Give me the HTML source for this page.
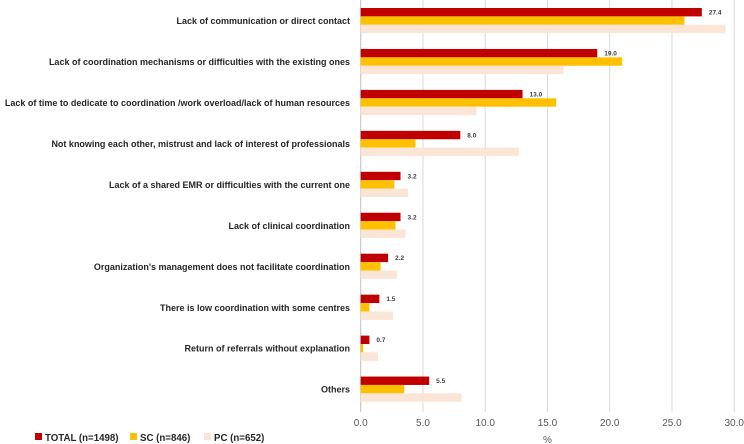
<!DOCTYPE html>
<html><head><meta charset="utf-8"><style>
body{margin:0;background:#fff;}
svg{display:block;font-family:"Liberation Sans",sans-serif;}
</style></head><body>
<svg id="chart" width="744" height="444"></svg>
<script>
const categories=["Lack of communication or direct contact","Lack of coordination mechanisms or difficulties with the existing ones","Lack of time to dedicate to coordination /work overload/lack of human resources","Not knowing each other, mistrust and lack of interest of professionals","Lack of a shared EMR or difficulties with the current one","Lack of clinical coordination","Organization's management does not  facilitate coordination","There is low coordination with some centres","Return of referrals without explanation","Others"];
const totalValues=[27.4,19.0,13.0,8.0,3.2,3.2,2.2,1.5,0.7,5.5];
const scValues=[26.0,21.0,15.7,4.4,2.7,2.8,1.6,0.7,0.2,3.5];
const pcValues=[29.3,16.3,9.3,12.7,3.8,3.6,2.9,2.6,1.4,8.1];
const tickLabels=[0,5,10,15,20,25,30];
const seriesNames=["TOTAL (n=1498)","SC (n=846)","PC (n=652)"];
const colors=["#c00000","#ffc000","#fbe5d6"];
const NS="http://www.w3.org/2000/svg";
const svg=document.getElementById('chart');
const x0=360.7,pxPer=12.45,y0=8,step=40.95,bh=8.4;
const xs=v=>x0+v*pxPer;
function mk(t,a,txt){const e=document.createElementNS(NS,t);for(const k in a)e.setAttribute(k,a[k]);if(txt!==undefined)e.textContent=txt;svg.appendChild(e);return e;}
tickLabels.forEach(t=>{
 const g=mk('line',{x1:xs(t),x2:xs(t),y1:0,y2:412,stroke:t===0?'#bfbfbf':'#d9d9d9','stroke-width':1});
 
 
 const l=mk('text',{x:xs(t),y:426,'text-anchor':'middle','font-size':10,fill:'#595959'},t.toFixed(1));
 
 
});
const xt=mk('text',{x:xs(15),y:443,'text-anchor':'middle','font-size':10,fill:'#595959'},'%');


const series=[totalValues,scValues,pcValues];
categories.forEach((c,i)=>{
 const gy=y0+i*step;
 series.forEach((s,j)=>{
  const r=mk('rect',{x:x0,y:gy+j*bh,width:Math.max(0,xs(s[i])-x0),height:bh,fill:colors[j]});
  
  
 });
 const v=mk('text',{x:xs(totalValues[i])+7,y:gy+6.5,'font-size':6.5,'font-weight':'bold',fill:'#404040'},totalValues[i].toFixed(1));
 
 
 const l=mk('text',{x:350,y:gy+bh*1.5+3.5,'text-anchor':'end','font-size':9,'font-weight':'bold',fill:'#262626'},c);
 
 
 const w=l.getComputedTextLength();
 if(w>349){l.setAttribute('textLength',349);l.setAttribute('lengthAdjust','spacingAndGlyphs');}
});
const lx=[35,130,204];
seriesNames.forEach((n,j)=>{
 const s=mk('rect',{x:lx[j],y:433,width:7,height:7,fill:colors[j]});
 
 
 const t=mk('text',{x:lx[j]+10,y:441,'font-size':9.7,'font-weight':'bold',fill:'#262626'},n);
 
 
});
</script>
</body></html>
